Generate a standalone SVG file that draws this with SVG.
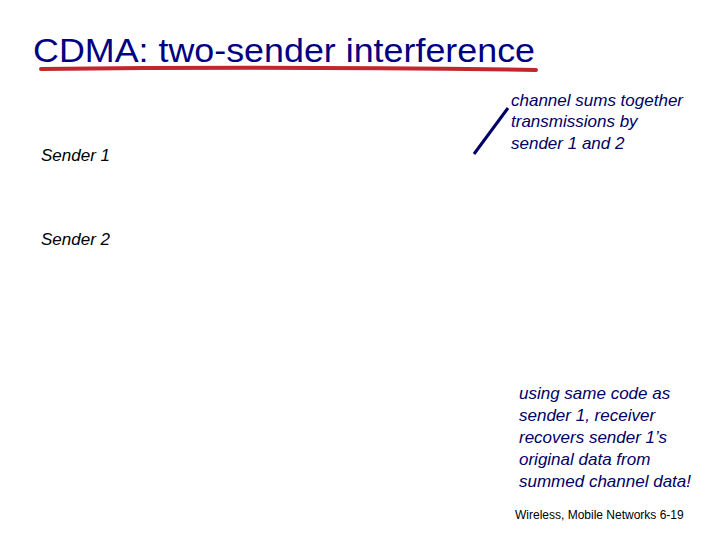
<svg xmlns="http://www.w3.org/2000/svg" width="720" height="540" viewBox="0 0 720 540">
<style>
.t{font-family:"Liberation Sans",Arial,sans-serif;font-size:17px;font-style:italic;fill:#000}
.b{font-family:"Liberation Sans",Arial,sans-serif;font-size:17px;font-style:italic;fill:#000066}
</style>
<rect width="720" height="540" fill="#fff"/>
<g id="title">
<text x="33" y="62" font-family="Liberation Sans,Arial,sans-serif" font-size="33" fill="#000080" textLength="502" lengthAdjust="spacingAndGlyphs">CDMA: two-sender interference</text>
<path d="M41,69 Q280,66 536,70" stroke="#c0282d" stroke-width="4" fill="none" stroke-linecap="round"/>
</g>
<g id="sender1"><text class="t" x="41" y="161">Sender 1</text></g>
<g id="sender2"><text class="t" x="41" y="245">Sender 2</text></g>
<g id="connectors"><line x1="508" y1="108" x2="474" y2="154" stroke="#000066" stroke-width="3"/></g>
<g id="note1">
<text class="b" x="511" y="106">channel sums together</text>
<text class="b" x="511" y="127">transmissions by</text>
<text class="b" x="511" y="149">sender 1 and 2</text>
</g>
<g id="note2">
<text class="b" x="519" y="399">using same code as</text>
<text class="b" x="519" y="421">sender 1, receiver</text>
<text class="b" x="519" y="443">recovers sender 1’s</text>
<text class="b" x="519" y="465">original data from</text>
<text class="b" x="519" y="487">summed channel data!</text>
</g>
<g id="footer"><text x="515" y="519" font-family="Liberation Sans,Arial,sans-serif" font-size="12" fill="#000">Wireless, Mobile Networks  6-19</text></g>
</svg>
